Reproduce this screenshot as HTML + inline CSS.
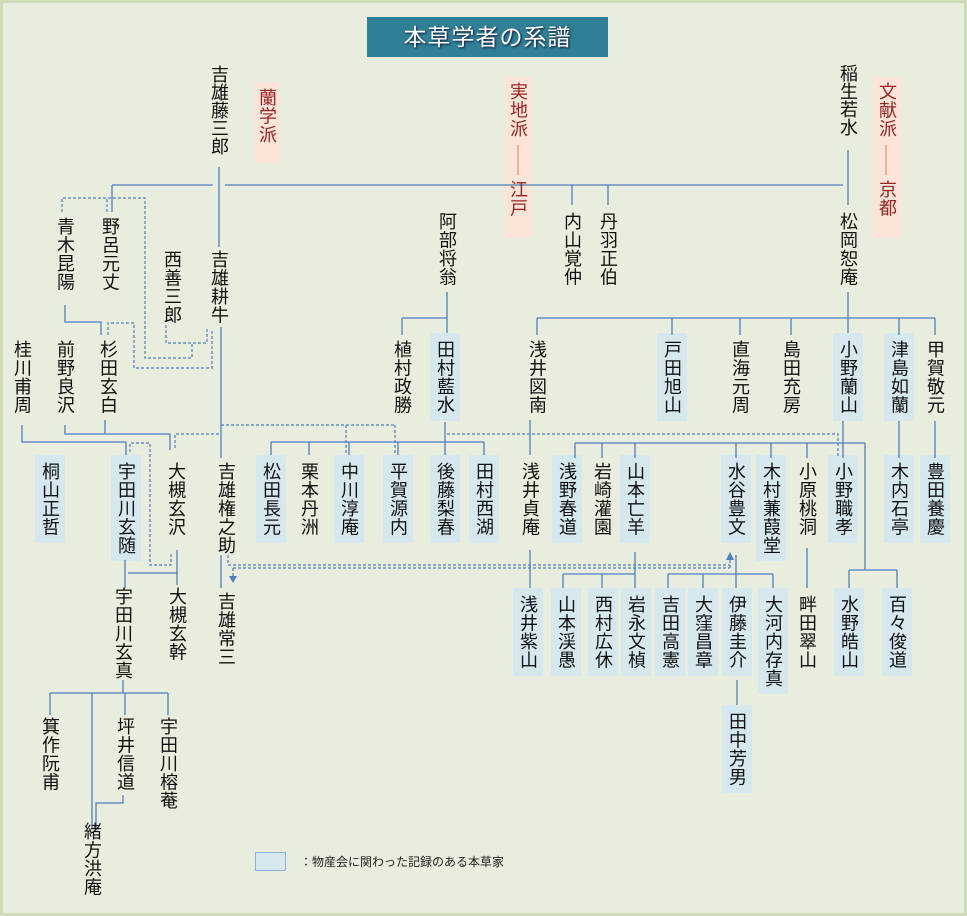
<!DOCTYPE html>
<html><head><meta charset="utf-8"><style>
html,body{margin:0;padding:0}
body{width:967px;height:916px;position:relative;overflow:hidden;background:#e9eddd;font-family:"Liberation Sans","Noto Sans CJK JP",sans-serif}
#frame{position:absolute;left:0;top:0;width:961px;height:910px;border:3px solid #cfdbb6}
.n{position:absolute;writing-mode:vertical-rl;text-orientation:upright;font-size:18px;letter-spacing:0.5px;line-height:24px;width:24px;color:#111;white-space:nowrap}
.h{position:absolute;background:#d5e8ee;width:30px}
.p{position:absolute;background:#fbe4d8}
.r{color:#9a2525}
#title{position:absolute;left:367px;top:17px;width:241px;height:40px;background:#2f7f97;color:#fff;font-size:23px;text-align:center;line-height:40px;letter-spacing:1px;text-shadow:1px 1px 2px #113}
svg{position:absolute;left:0;top:0}
.s{stroke:#4d7fc1;stroke-width:1.3;fill:none}
.d{stroke:#4d7fc1;stroke-width:1.2;fill:none;stroke-dasharray:3 2}
</style></head><body>
<div id="frame"></div>
<div id="title">本草学者の系譜</div>

<div class="p" style="left:254px;top:82px;width:26px;height:81px"></div>
<div class="p" style="left:505px;top:77px;width:27px;height:161px"></div>
<div class="p" style="left:873px;top:77px;width:28px;height:161px"></div>

<div class="h" style="left:430px;top:333px;height:88px"></div>
<div class="h" style="left:657px;top:333px;height:88px"></div>
<div class="h" style="left:833px;top:333px;height:88px"></div>
<div class="h" style="left:884px;top:333px;height:88px"></div>

<div class="h" style="left:35px;top:455px;height:88px"></div>
<div class="h" style="left:111px;top:455px;height:106px"></div>
<div class="h" style="left:256px;top:455px;height:88px"></div>
<div class="h" style="left:334px;top:455px;height:88px"></div>
<div class="h" style="left:383px;top:455px;height:88px"></div>
<div class="h" style="left:430px;top:455px;height:88px"></div>
<div class="h" style="left:469px;top:455px;height:88px"></div>
<div class="h" style="left:552px;top:455px;height:88px"></div>
<div class="h" style="left:620px;top:455px;height:88px"></div>
<div class="h" style="left:721px;top:455px;height:88px"></div>
<div class="h" style="left:756px;top:455px;height:106px"></div>
<div class="h" style="left:828px;top:455px;height:88px"></div>
<div class="h" style="left:884px;top:455px;height:88px"></div>
<div class="h" style="left:920px;top:455px;height:88px"></div>

<div class="h" style="left:513px;top:588px;height:88px"></div>
<div class="h" style="left:551px;top:588px;height:88px"></div>
<div class="h" style="left:588px;top:588px;height:88px"></div>
<div class="h" style="left:621px;top:588px;height:88px"></div>
<div class="h" style="left:655px;top:588px;height:88px"></div>
<div class="h" style="left:688px;top:588px;height:88px"></div>
<div class="h" style="left:722px;top:588px;height:88px"></div>
<div class="h" style="left:758px;top:588px;height:106px"></div>
<div class="h" style="left:834px;top:588px;height:88px"></div>
<div class="h" style="left:882px;top:588px;height:88px"></div>
<div class="h" style="left:722px;top:705px;height:88px"></div>

<svg width="967" height="916">
<path class="s" d="M219 167V247M221 327V458M221 555V588M112 185H213M225 185H843M112 185V212M572 185V205M608 185V205M848 150V205M447 292V333M402 318H447M402 318V335M848 292V333M537 318H935M537 318V335M672 318V335M740 318V335M791 318V335M899 318V335M935 318V335M65 305V322H101V335M22 425V442H126V455M65 425V434H170V450M105 420V434M445 422V455M271 442H484M271 442V455M309 442V455M349 442V455M398 442V455M484 442V455M530 420V455M575 443H865M575 443V458M602 443V458M635 443V458M736 443V458M771 443V458M807 443V458M865 443V570M849 570H897M849 570V588M897 570V588M843 421V458M899 421V458M935 421V458M125 560V588M128 573H177M177 550V585M123 680V693M50 693H168M50 693V715M125 693V715M168 693V715M92 693V828M123 795V803H96V828M530 550V588M635 552V574M563 574H635M563 574V588M602 574V588M635 574V588M736 555V588M668 574H773M668 574V588M703 574V588M773 574V588M807 548V588M737 680V705"/>
<path class="d" d="M62 212V198H145V358H192V343M166 325V343H207V328M107 212V198M108 335V323H134V368H212V330M221 425H395M346 425V455M395 425V455M175 448V434H221M447 434H838V458M130 452V443H150V565H171V552M228 555V565H730M233 568H730M233 568V576M730 568V560"/>
<path d="M229 576h8l-4 7z" fill="#4d7fc1"/>
<path d="M726 560h8l-4-8z" fill="#4d7fc1"/>
<path d="M518 145V175M886 145V175" stroke="#e49a6a" stroke-width="1.3"/>
</svg>

<div class="n" style="left:207px;top:65px;letter-spacing:0">吉雄藤三郎</div>
<div class="n r" style="left:255px;top:88px">蘭学派</div>
<div class="n r" style="left:506px;top:82px">実地派</div>
<div class="n r" style="left:506px;top:180px">江戸</div>
<div class="n" style="left:836px;top:64px;letter-spacing:0">稲生若水</div>
<div class="n r" style="left:875px;top:82px">文献派</div>
<div class="n r" style="left:875px;top:180px">京都</div>

<div class="n" style="left:53px;top:217px">青木昆陽</div>
<div class="n" style="left:98px;top:217px">野呂元丈</div>
<div class="n" style="left:160px;top:250px">西善三郎</div>
<div class="n" style="left:207px;top:250px">吉雄耕牛</div>
<div class="n" style="left:435px;top:212px">阿部将翁</div>
<div class="n" style="left:560px;top:212px">内山覚仲</div>
<div class="n" style="left:596px;top:212px">丹羽正伯</div>
<div class="n" style="left:836px;top:212px">松岡恕庵</div>

<div class="n" style="left:10px;top:340px">桂川甫周</div>
<div class="n" style="left:53px;top:340px">前野良沢</div>
<div class="n" style="left:96px;top:340px">杉田玄白</div>
<div class="n" style="left:390px;top:340px">植村政勝</div>
<div class="n" style="left:433px;top:340px">田村藍水</div>
<div class="n" style="left:525px;top:340px">浅井図南</div>
<div class="n" style="left:660px;top:340px">戸田旭山</div>
<div class="n" style="left:728px;top:340px">直海元周</div>
<div class="n" style="left:779px;top:340px">島田充房</div>
<div class="n" style="left:836px;top:340px">小野蘭山</div>
<div class="n" style="left:887px;top:340px">津島如蘭</div>
<div class="n" style="left:923px;top:340px">甲賀敬元</div>

<div class="n" style="left:38px;top:462px">桐山正哲</div>
<div class="n" style="left:114px;top:462px">宇田川玄随</div>
<div class="n" style="left:164px;top:462px">大槻玄沢</div>
<div class="n" style="left:214px;top:462px">吉雄権之助</div>
<div class="n" style="left:259px;top:462px">松田長元</div>
<div class="n" style="left:297px;top:462px">栗本丹洲</div>
<div class="n" style="left:337px;top:462px">中川淳庵</div>
<div class="n" style="left:386px;top:462px">平賀源内</div>
<div class="n" style="left:433px;top:462px">後藤梨春</div>
<div class="n" style="left:472px;top:462px">田村西湖</div>
<div class="n" style="left:518px;top:462px">浅井貞庵</div>
<div class="n" style="left:555px;top:462px">浅野春道</div>
<div class="n" style="left:590px;top:462px">岩崎灌園</div>
<div class="n" style="left:623px;top:462px">山本亡羊</div>
<div class="n" style="left:724px;top:462px">水谷豊文</div>
<div class="n" style="left:759px;top:462px">木村蒹葭堂</div>
<div class="n" style="left:795px;top:462px">小原桃洞</div>
<div class="n" style="left:831px;top:462px">小野職孝</div>
<div class="n" style="left:887px;top:462px">木内石亭</div>
<div class="n" style="left:923px;top:462px">豊田養慶</div>

<div class="n" style="left:111px;top:587px">宇田川玄真</div>
<div class="n" style="left:165px;top:587px">大槻玄幹</div>
<div class="n" style="left:214px;top:592px">吉雄常三</div>
<div class="n" style="left:516px;top:595px">浅井紫山</div>
<div class="n" style="left:554px;top:595px">山本渓愚</div>
<div class="n" style="left:591px;top:595px">西村広休</div>
<div class="n" style="left:624px;top:595px">岩永文楨</div>
<div class="n" style="left:658px;top:595px">吉田高憲</div>
<div class="n" style="left:691px;top:595px">大窪昌章</div>
<div class="n" style="left:725px;top:595px">伊藤圭介</div>
<div class="n" style="left:761px;top:595px">大河内存真</div>
<div class="n" style="left:795px;top:595px">畔田翠山</div>
<div class="n" style="left:837px;top:595px">水野皓山</div>
<div class="n" style="left:885px;top:595px">百々俊道</div>
<div class="n" style="left:725px;top:712px">田中芳男</div>

<div class="n" style="left:38px;top:717px">箕作阮甫</div>
<div class="n" style="left:113px;top:717px">坪井信道</div>
<div class="n" style="left:156px;top:717px">宇田川榕菴</div>
<div class="n" style="left:80px;top:822px">緒方洪庵</div>

<div style="position:absolute;left:255px;top:852px;width:29px;height:17px;background:#d5e8ee;border:1px solid #8fb0dc"></div>
<div style="position:absolute;left:300px;top:853px;font-size:12px;color:#222">：物産会に関わった記録のある本草家</div>
</body></html>
